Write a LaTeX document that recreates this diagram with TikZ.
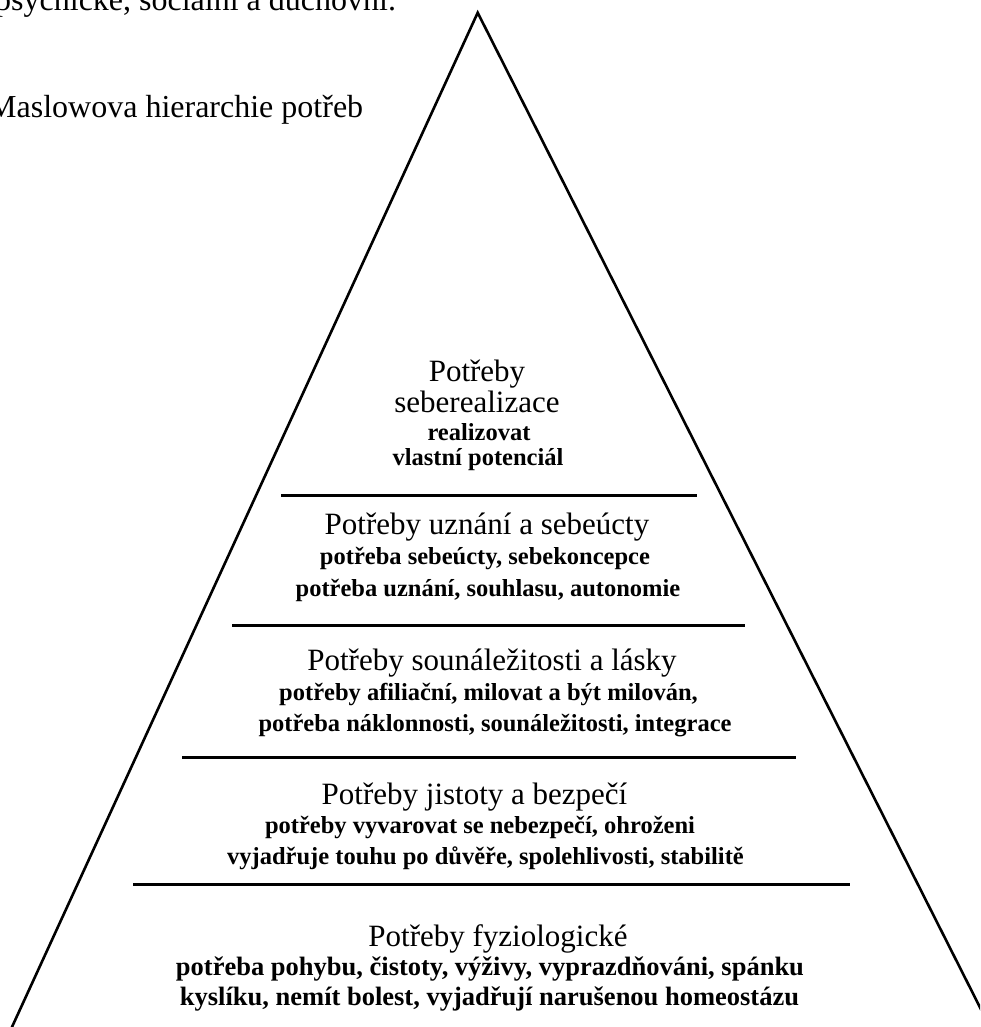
\documentclass[tikz,border=0pt]{standalone}
\usepackage{fontspec}
\setmainfont{Liberation Serif}
\begin{document}
\begin{tikzpicture}[x=1pt,y=-1pt]
\tikzset{
  ttl/.style={anchor=base, font=\fontsize{31}{36}\selectfont, inner sep=0pt},
  sub/.style={anchor=base, font=\bfseries\fontsize{24.5}{29}\selectfont, inner sep=0pt},
  bigsub/.style={anchor=base, font=\bfseries\fontsize{26.5}{31}\selectfont, inner sep=0pt},
  head/.style={anchor=base west, font=\fontsize{32}{38}\selectfont, inner sep=0pt},
  lvl/.style={line width=3pt},
  edgeline/.style={line width=2.6pt, line join=miter}
}
\useasboundingbox (0,0) rectangle (980,1027);
\clip (0,0) rectangle (980,1027);
% top text
\node[head] (t1) at (-5,11) {psychické, sociální a duchovní.};
\node[head] (t2) at (-12,118) {Maslowova hierarchie potřeb};
% pyramid
\coordinate (apex) at (477.7,12.7);
\coordinate (bl) at (2.8,1047);
\coordinate (br) at (1000,1047);
\draw[edgeline] (bl) -- (apex) -- (br);
% level separators
\coordinate (l1a) at (281,495); \coordinate (l1b) at (697,495);
\coordinate (l2a) at (232,625); \coordinate (l2b) at (745,625);
\coordinate (l3a) at (182,757); \coordinate (l3b) at (796,757);
\coordinate (l4a) at (133,884); \coordinate (l4b) at (850,884);
\draw[lvl] (l1a) -- (l1b);
\draw[lvl] (l2a) -- (l2b);
\draw[lvl] (l3a) -- (l3b);
\draw[lvl] (l4a) -- (l4b);
% level 1
\node[ttl] (a1) at (477,381) {Potřeby};
\node[ttl] (a2) at (477,412) {seberealizace};
\node[sub] (a3) at (479,440) {realizovat};
\node[sub] (a4) at (478,465) {vlastní potenciál};
% level 2
\node[ttl] (b1) at (487,534) {Potřeby uznání a sebeúcty};
\node[sub] (b2) at (485,564) {potřeba sebeúcty, sebekoncepce};
\node[sub] (b3) at (488,596) {potřeba uznání, souhlasu, autonomie};
% level 3
\node[ttl] (c1) at (492,670) {Potřeby sounáležitosti a lásky};
\node[sub] (c2) at (488.5,700) {potřeby afiliační, milovat a být milován,};
\node[sub] (c3) at (495,731) {potřeba náklonnosti, sounáležitosti, integrace};
% level 4
\node[ttl] (d1) at (474.5,804) {Potřeby jistoty a bezpečí};
\node[sub] (d2) at (480,833) {potřeby vyvarovat se nebezpečí, ohroženi};
\node[sub] (d3) at (485.5,864) {vyjadřuje touhu po důvěře, spolehlivosti, stabilitě};
% level 5
\node[ttl] (e1) at (498,946) {Potřeby fyziologické};
\node[bigsub] (e2) at (490,975) {potřeba pohybu, čistoty, výživy, vyprazdňováni, spánku};
\node[bigsub] (e3) at (489.5,1005) {kyslíku, nemít bolest, vyjadřují narušenou homeostázu};
\end{tikzpicture}
\end{document}
